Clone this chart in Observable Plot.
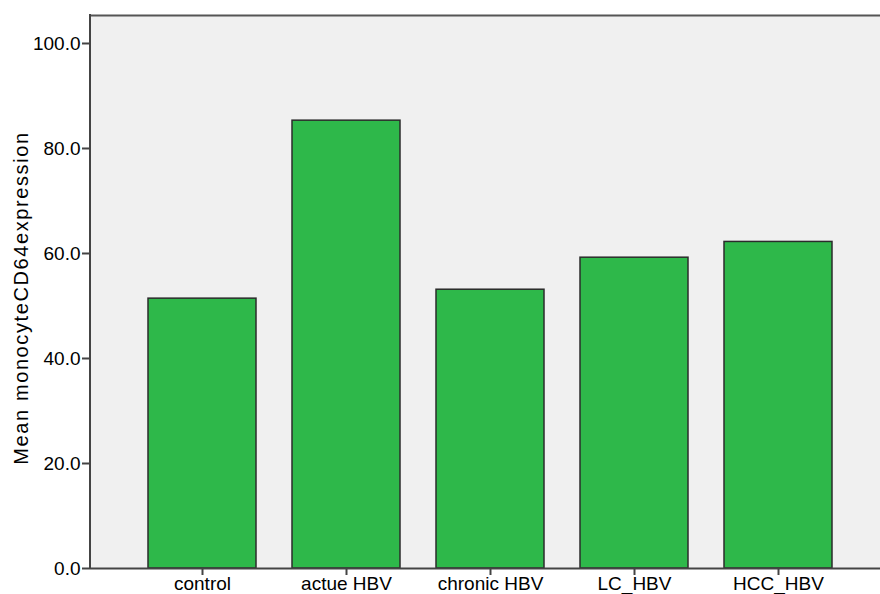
<!DOCTYPE html>
<html><head><meta charset="utf-8">
<script src="https://cdn.jsdelivr.net/npm/d3@7"></script>
<script src="https://cdn.jsdelivr.net/npm/@observablehq/plot@0.6"></script>
<style>body{margin:0;background:#fff;} svg{display:block;}</style>
</head><body><div id="chart"></div>
<script>
const categories = ["control", "actue HBV", "chronic HBV", "LC_HBV", "HCC_HBV"];
const means = [51.4, 85.3, 53.1, 59.2, 62.2];
const yTicks = [0, 20, 40, 60, 80, 100];
const yLabel = "Mean monocyteCD64expression";
const data = categories.map((c, i) => ({group: c, value: means[i]}));

const chart = Plot.plot({
  width: 880, height: 594,
  marginLeft: 90, marginRight: 0, marginTop: 15, marginBottom: 26,
  style: {fontFamily: "Liberation Sans, Arial, sans-serif", fontSize: "18px", background: "#fff", color: "#000", overflow: "visible"},
  x: {domain: categories, range: [130, 850], paddingInner: 0.25, paddingOuter: 0.125, label: null},
  y: {domain: [0, 105.33], label: null},
  marks: [
    Plot.frame({fill: "#f0f0f0", stroke: null}),
    Plot.barY(data, {x: "group", y: "value", fill: "#2eb84a", stroke: "#2b2b2b", strokeWidth: 1.5}),
    Plot.ruleY([105.33], {stroke: "#555", strokeWidth: 2}),
    Plot.ruleY([0], {stroke: "#444", strokeWidth: 2}),
    Plot.axisY({ticks: yTicks, tickFormat: d3.format(".1f"), tickSize: 8, tickPadding: 2, stroke: "#444", strokeWidth: 2, fontSize: 19}),
    Plot.axisX({tickSize: 7, tickPadding: 1, stroke: "#444", strokeWidth: 2, fontSize: 19}),
    Plot.text([yLabel], {frameAnchor: "left", dx: -69, dy: 6, rotate: -90, textAnchor: "middle", fontSize: 20, fill: "#000"}),
    () => {
      const g = d3.create("svg:g");
      g.append("line").attr("x1", 90).attr("x2", 90).attr("y1", 14).attr("y2", 569).attr("stroke", "#444").attr("stroke-width", 2);
      return g.node();
    }
  ]
});
chart.querySelectorAll("text").forEach(t => { if (t.textContent === yLabel) t.setAttribute("letter-spacing", "1.6"); });
document.getElementById("chart").appendChild(chart);
</script></body></html>
